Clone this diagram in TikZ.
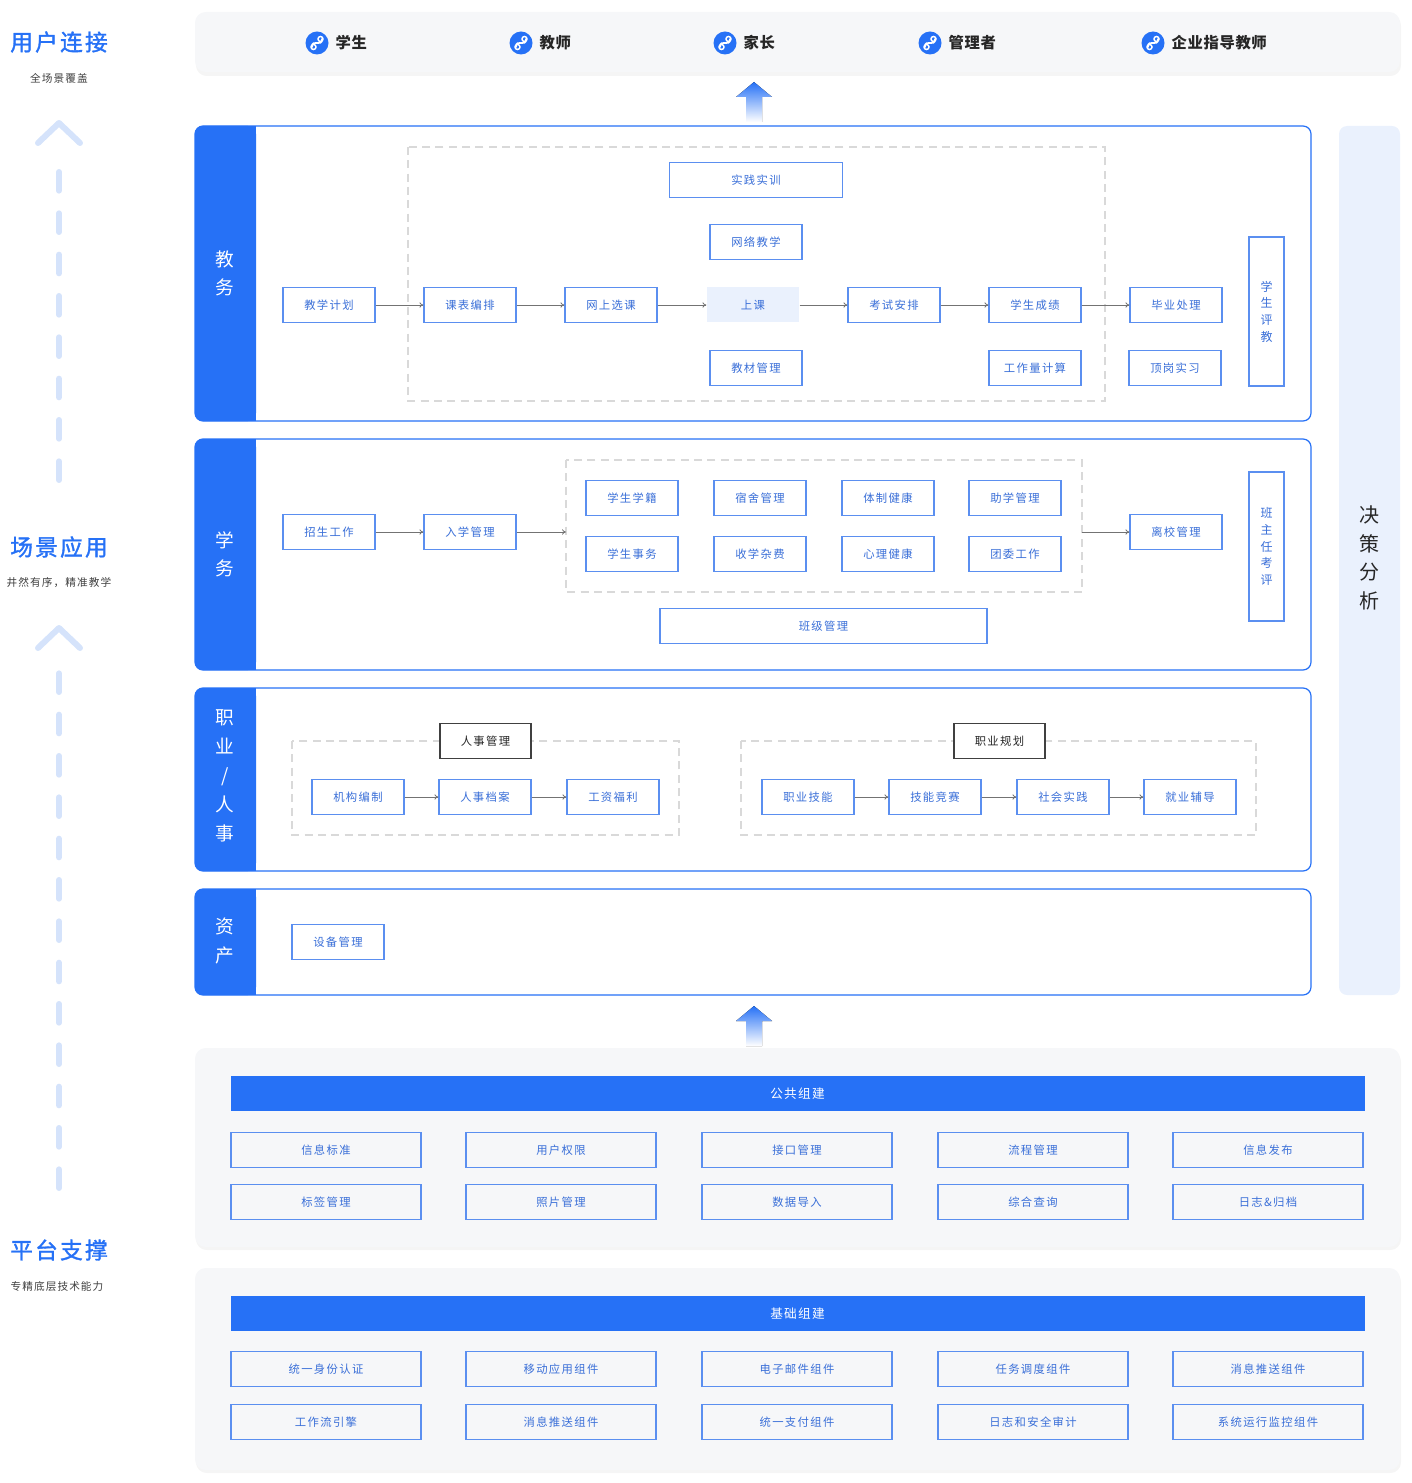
\documentclass[tikz,border=0pt]{standalone}
\usepackage{fontspec}
\setmainfont{Noto Sans CJK SC}
\usetikzlibrary{arrows.meta}
\definecolor{bl}{HTML}{2671F6}
\definecolor{bd}{HTML}{5B8FF0}
\definecolor{tx}{HTML}{3A6FD8}
\definecolor{pan}{HTML}{F6F7F9}
\definecolor{dsh}{HTML}{D5E3FB}
\definecolor{side}{HTML}{EAF1FD}
\begin{document}
\begin{tikzpicture}[x=0.75pt,y=-0.75pt,
  box/.style={draw=bd,line width=0.9pt,fill=white,minimum width=69pt,minimum height=26.25pt,inner sep=0pt,font=\fontsize{8.5}{10}\selectfont\addfontfeature{LetterSpace=12},text=tx},
  wbox/.style={box,fill=none,minimum width=142.5pt},
  kbox/.style={box,draw=black!75,text=black!85},
  arr/.style={-{To[length=3pt,width=4pt]},draw=black!55,line width=0.6pt},
  dsbox/.style={draw=black!15,dash pattern=on 6pt off 4pt,line width=0.8pt},
  module/.style={draw=bl,line width=0.9pt,rounded corners=6pt,fill=white},
  strip/.style={fill=bl,rounded corners=6pt},
  vlab/.style={text=white,align=center,font=\fontsize{14}{21}\selectfont},
  vbox/.style={draw=bd,line width=0.9pt,minimum width=26.25pt,align=center,text=tx,font=\fontsize{9}{12.5}\selectfont},
  ttl/.style={text=bl,font=\fontsize{17}{20}\selectfont\addfontfeature{LetterSpace=10,FakeBold=1.5}},
  sub/.style={text=black!75,font=\fontsize{8}{10}\selectfont\addfontfeature{LetterSpace=10}},
  dline/.style={draw=dsh,line width=4.5pt,line cap=round,dash pattern=on 14pt off 17pt},
  chev/.style={draw=dsh,line width=4.5pt,line cap=round,line join=round},
  user/.style={font=\bfseries\fontsize{11.5}{14}\selectfont\addfontfeature{LetterSpace=4},text=black!85,anchor=west},
  hdr/.style={fill=bl,minimum width=850.5pt,minimum height=26.25pt,inner sep=0pt,text=white,font=\fontsize{9.5}{11}\selectfont\addfontfeature{LetterSpace=10}},
  uparr/.style={top color=bl,bottom color=white,draw=none}
]
\useasboundingbox (0,0) rectangle (1411,1483);
% left column
\node[ttl] (t1) at (59,42) {用户连接};
\node[sub] (s1) at (59,78) {全场景覆盖};
\node[ttl] (t2) at (59,547) {场景应用};
\node[sub] (s2) at (59,583) {井然有序，精准教学};
\node[ttl] (t3) at (59,1250) {平台支撑};
\node[sub] (s3) at (57,1286) {专精底层技术能力};
\draw[dline] (59,480) -- (59,155);
\draw[chev] (38,143) -- (59,123) -- (80,143);
\draw[dline] (59,1188) -- (59,660);
\draw[chev] (38,648) -- (59,628) -- (80,648);
% top bar
\fill[black!4,rounded corners=8pt] (196,15) rectangle (1401,76);
\fill[pan,rounded corners=8pt] (195,12) rectangle (1400,72);
\foreach \x/\n/\t in {317/u1/学生,521/u2/教师,725/u3/家长,930/u4/管理者,1153/u5/企业指导教师}{
  \fill[bl] (\x,43) circle (11.5);
  \draw[white,line width=1.3pt,line cap=round] (\x-5,47) .. controls (\x-5,38) and (\x+5,48) .. (\x+5,39);
  \draw[white,line width=1.1pt] (\x-3.5,47) circle (2.5) (\x+3.5,39) circle (2.5);
  \node[user] (\n) at (\x+14,43) {\t};
}
% up arrows
\fill[uparr] (754,82) -- (772,97) -- (762,97) -- (762,122) -- (746,122) -- (746,97) -- (736,97) -- cycle;
\fill[uparr] (754,1006) -- (772,1021) -- (762,1021) -- (762,1046) -- (746,1046) -- (746,1021) -- (736,1021) -- cycle;
% decision
\fill[side,rounded corners=6pt] (1339,126) rectangle (1400,995);
\node[align=center,font=\fontsize{15}{21.5}\selectfont,text=black!85] (jc) at (1369,558) {决\\策\\分\\析};
% module 1
\draw[module] (195,126) rectangle (1311,421);
\fill[strip] (195,126) rectangle (256,421);
\fill[bl] (240,126) rectangle (256,421);
\node[vlab] (m1) at (225,273) {教\\务};
\draw[dsbox] (408,147) rectangle (1105,401);
\node[box,minimum width=129.75pt] (a1) at (756,180) {实践实训};
\node[box] (a2) at (756,242) {网络教学};
\node[box] (b1) at (329,305) {教学计划};
\node[box] (b2) at (470,305) {课表编排};
\node[box] (b3) at (611,305) {网上选课};
\node[box,draw=none,fill=side] (b4) at (753,305) {上课};
\node[box] (b5) at (894,305) {考试安排};
\node[box] (b6) at (1035,305) {学生成绩};
\node[box] (b7) at (1176,305) {毕业处理};
\node[box] (c1) at (756,368) {教材管理};
\node[box] (c2) at (1035,368) {工作量计算};
\node[box] (c3) at (1175,368) {顶岗实习};
\node[vbox,minimum height=111.75pt] (pj) at (1266.5,311.5) {学\\生\\评\\教};
\draw[arr] (b1) -- (b2); \draw[arr] (b2) -- (b3); \draw[arr] (b3) -- (b4);
\draw[arr] (b4) -- (b5); \draw[arr] (b5) -- (b6); \draw[arr] (b6) -- (b7);
% module 2
\draw[module] (195,439) rectangle (1311,670);
\fill[strip] (195,439) rectangle (256,670);
\fill[bl] (240,439) rectangle (256,670);
\node[vlab] (m2) at (225,554) {学\\务};
\node[box] (d1) at (329,532) {招生工作};
\node[box] (d2) at (470,532) {入学管理};
\draw[dsbox] (566,460) rectangle (1082,592);
\coordinate (gL) at (566,532);
\coordinate (gR) at (1082,532);
\node[box] (e1) at (632,498) {学生学籍};
\node[box] (e2) at (760,498) {宿舍管理};
\node[box] (e3) at (888,498) {体制健康};
\node[box] (e4) at (1015,498) {助学管理};
\node[box] (f1) at (632,554) {学生事务};
\node[box] (f2) at (760,554) {收学杂费};
\node[box] (f3) at (888,554) {心理健康};
\node[box] (f4) at (1015,554) {团委工作};
\node[box,minimum width=245.25pt] (bj) at (823.5,626) {班级管理};
\node[box] (lx) at (1176,532) {离校管理};
\node[vbox,minimum height=111.75pt] (bz) at (1266.5,546.5) {班\\主\\任\\考\\评};
\draw[arr] (d1) -- (d2); \draw[arr] (d2) -- (gL); \draw[arr] (gR) -- (lx);
% module 3
\draw[module] (195,688) rectangle (1311,871);
\fill[strip] (195,688) rectangle (256,871);
\fill[bl] (240,688) rectangle (256,871);
\node[vlab,font=\fontsize{14}{21.7}\selectfont] (m3) at (225,776) {职\\业\\/\\人\\事};
\draw[dsbox] (292,741) rectangle (679,835);
\draw[dsbox] (741,741) rectangle (1256,835);
\node[kbox,minimum width=68.25pt] (rs) at (485.5,741) {人事管理};
\node[kbox,minimum width=68.25pt] (zg) at (999.5,741) {职业规划};
\node[box] (g1) at (358,797) {机构编制};
\node[box] (g2) at (485,797) {人事档案};
\node[box] (g3) at (613,797) {工资福利};
\node[box] (h1) at (808,797) {职业技能};
\node[box] (h2) at (935,797) {技能竞赛};
\node[box] (h3) at (1063,797) {社会实践};
\node[box] (h4) at (1190,797) {就业辅导};
\draw[arr] (g1) -- (g2); \draw[arr] (g2) -- (g3);
\draw[arr] (h1) -- (h2); \draw[arr] (h2) -- (h3); \draw[arr] (h3) -- (h4);
% module 4
\draw[module] (195,889) rectangle (1311,995);
\fill[strip] (195,889) rectangle (256,995);
\fill[bl] (240,889) rectangle (256,995);
\node[vlab] (m4) at (225,941) {资\\产};
\node[box] (sb) at (338,942) {设备管理};
% platform
\fill[black!4,rounded corners=8pt] (196,1051) rectangle (1401,1250);
\fill[pan,rounded corners=8pt] (195,1048) rectangle (1400,1247);
\node[hdr] (gg) at (797.5,1093.5) {公共组建};
\foreach \x/\a/\b [count=\i] in {326/信息标准/标签管理,561/用户权限/照片管理,797/接口管理/数据导入,1033/流程管理/综合查询,1268/信息发布/日志\&归档}{
  \node[wbox] (p\i) at (\x,1150) {\a};
  \node[wbox] (q\i) at (\x,1202) {\b};
}
\fill[black!4,rounded corners=8pt] (196,1271) rectangle (1401,1473);
\fill[pan,rounded corners=8pt] (195,1268) rectangle (1400,1470);
\node[hdr] (jc2) at (797.5,1313.5) {基础组建};
\foreach \x/\a/\b [count=\i] in {326/统一身份认证/工作流引擎,561/移动应用组件/消息推送组件,797/电子邮件组件/统一支付组件,1033/任务调度组件/日志和安全审计,1268/消息推送组件/系统运行监控组件}{
  \node[wbox] (r\i) at (\x,1369) {\a};
  \node[wbox] (s\i) at (\x,1422) {\b};
}
\end{tikzpicture}
\end{document}
